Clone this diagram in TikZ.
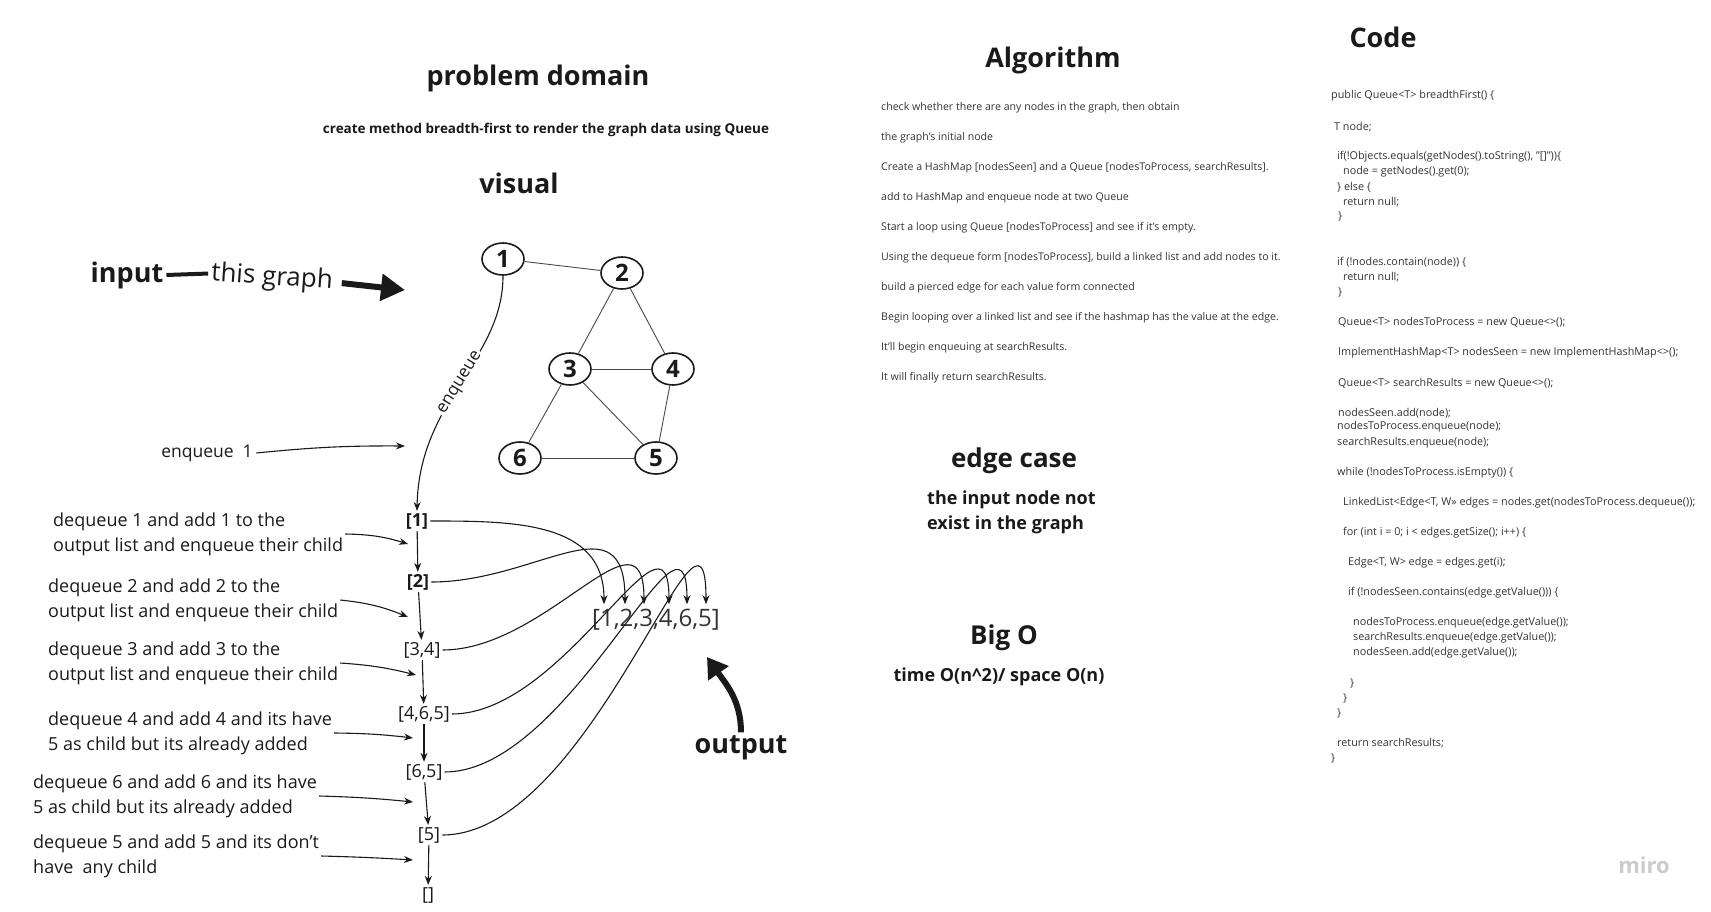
\documentclass[tikz,border=0pt]{standalone}
\usepackage{fontspec}
\setmainfont{Open Sans}[Ligatures=Common]
\usetikzlibrary{shapes.geometric,arrows.meta}
\definecolor{ink}{HTML}{1A1A1A}
\definecolor{txt}{HTML}{333333}

\tikzset{
  heading/.style={font=\fontsize{27}{32}\selectfont\bfseries, text=ink},
  small/.style={font=\fontsize{10.6}{12}\selectfont, text=txt, anchor=west, inner sep=0pt},
  listing/.style={small, font=\fontsize{10.8}{12}\selectfont},
  desc/.style={font=\fontsize{18}{25}\selectfont, text=ink, align=left, anchor=west, inner sep=2pt},
  queue/.style={font=\fontsize{18}{20}\selectfont, text=ink, inner sep=2pt},
  vertex/.style={ellipse, draw=ink, line width=1.6pt, minimum width=42pt, minimum height=32pt, inner sep=0pt, font=\fontsize{24}{24}\selectfont\bfseries, text=ink},
  link/.style={draw=ink!80, line width=0.9pt},
  pointer/.style={draw=ink, line width=1.1pt, -{Stealth[length=9pt,width=7pt]}},
  fat/.style={draw=ink, line width=6pt, -{Triangle[length=24pt,width=26pt]}},
}

\begin{document}
\begin{tikzpicture}[x=1pt,y=-1pt]
\useasboundingbox (0,0) rectangle (1711,912);

% titles
\node[heading] (pd) at (538,78) {problem domain};
\node[font=\fontsize{13.5}{16}\selectfont\bfseries, text=ink] (task) at (546,130) {create method breadth-first to render the graph data using Queue};
\node[heading] (vis) at (519,183) {visual};
\node[heading] (alg) at (1053,60) {Algorithm};
\node[heading] (code) at (1383,37) {Code};

% input
\node[font=\fontsize{27}{30}\selectfont\bfseries, text=ink, inner sep=3pt] (inp) at (127,275) {input};
\node[font=\fontsize{26}{30}\selectfont, text=ink, rotate=-4, inner sep=3pt] (thisg) at (272,278) {this graph};
\draw[ink, line width=4pt] (inp.east) -- (thisg.west);
\coordinate (gtip) at (405,290);
\draw[fat, shorten <=6pt] (thisg.east) -- (gtip);

% graph
\node[vertex] (n1) at (503,259) {1};
\node[vertex] (n2) at (622,273) {2};
\node[vertex] (n3) at (570,369) {3};
\node[vertex] (n4) at (673,369) {4};
\node[vertex] (n6) at (520,458) {6};
\node[vertex] (n5) at (656,458) {5};
\draw[link] (n1) -- (n2);
\draw[link] (n2) -- (n3);
\draw[link] (n2) -- (n4);
\draw[link] (n3) -- (n4);
\draw[link] (n3) -- (n6);
\draw[link] (n3) -- (n5);
\draw[link] (n4) -- (n5);
\draw[link] (n6) -- (n5);

% queue column
\node[queue, font=\fontsize{18}{20}\selectfont\bfseries] (q1) at (417,521) {[1]};
\node[queue, font=\fontsize{18}{20}\selectfont\bfseries] (q2) at (418,582) {[2]};
\node[queue] (q3) at (422,650) {[3,4]};
\node[queue] (q4) at (424,714) {[4,6,5]};
\node[queue] (q5) at (424,772) {[6,5]};
\node[queue] (q6) at (429,835) {[5]};
\node[queue] (q7) at (428,895) {[]};
\draw[pointer] (n1.south) .. controls (503,360) and (419,400) .. (q1.north)
  node[pos=0.5, sloped, fill=white, inner sep=2pt, font=\fontsize{17}{20}\selectfont, text=ink] {enqueue};
\draw[pointer] (q1) -- (q2);
\draw[pointer] (q2) -- (q3);
\draw[pointer] (q3) -- (q4);
\draw[pointer] (q4) -- (q5);
\draw[pointer] (q5) -- (q6);
\draw[pointer] (q6) -- (q7);

\node[font=\fontsize{17.5}{20}\selectfont, text=ink] (enq) at (207,453) {enqueue\ \ 1};
\coordinate (etip) at (405,446);
\draw[pointer] (enq.east) to[bend left=3] (etip);

% steps
\node[desc] (d1) at (51,534) {dequeue 1 and add 1 to the\\output list and enqueue their child};
\node[desc] (d2) at (46,600) {dequeue 2 and add 2 to the\\output list and enqueue their child};
\node[desc] (d3) at (46,663) {dequeue 3 and add 3 to the\\output list and enqueue their child};
\node[desc] (d4) at (46,733) {dequeue 4 and add 4 and its have\\5 as child but its already added};
\node[desc] (d5) at (31,796) {dequeue 6 and add 6 and its have\\5 as child but its already added};
\node[desc] (d6) at (31,856) {dequeue 5 and add 5 and its don't\\have\ \ any child};
\coordinate (e1) at (408,544);
\coordinate (e2) at (408,617);
\coordinate (e3) at (416,675);
\coordinate (e4) at (413,738);
\coordinate (e5) at (413,802);
\coordinate (e6) at (413,860);
\draw[pointer] (d1.east) to[bend left=8] (e1);
\draw[pointer] (d2.east) to[bend left=8] (e2);
\draw[pointer] (d3.east) to[bend left=5] (e3);
\draw[pointer] (d4.east) to[bend left=3] (e4);
\draw[pointer] (d5.east) to[bend left=2] (e5);
\draw[pointer] (d6.east) to[bend left=1] (e6);

% result
\node[font=\fontsize{24}{26}\selectfont, text=txt, inner sep=5pt] (res) at (656,620) {[1,2,3,4,6,5]};
\draw[pointer] (q1.east) to[out=0, in=90, looseness=1.1] ([xshift=-52pt]res.north);
\draw[pointer] (q2.east) to[out=0, in=90, looseness=1.4] ([xshift=-31pt]res.north);
\draw[pointer] (q3.east) to[out=0, in=90, looseness=1.3] ([xshift=-12pt]res.north);
\draw[pointer] (q4.east) to[out=0, in=90, looseness=1.2] ([xshift=13pt]res.north);
\draw[pointer] (q5.east) to[out=0, in=90, looseness=1.1] ([xshift=31pt]res.north);
\draw[pointer] (q6.east) to[out=0, in=90, looseness=1.1] ([xshift=50pt]res.north);

\node[font=\fontsize{27}{30}\selectfont\bfseries, text=ink] (outp) at (741,748) {output};
\coordinate (optip) at (707,657);
\draw[ink, line width=6pt, -{Triangle[length=20pt,width=24pt]}] (outp.north) to[out=90, in=-55] (optip);

% algorithm
\node[small] (a1) at (881,108) {check whether there are any nodes in the graph, then obtain};
\node[small] (a2) at (881,138) {the graph's initial node};
\node[small] (a3) at (881,168) {Create a HashMap [nodesSeen] and a Queue [nodesToProcess, searchResults].};
\node[small] (a4) at (881,198) {add to HashMap and enqueue node at two Queue};
\node[small] (a5) at (881,228) {Start a loop using Queue [nodesToProcess] and see if it's empty.};
\node[small] (a6) at (881,258) {Using the dequeue form [nodesToProcess], build a linked list and add nodes to it.};
\node[small] (a7) at (881,288) {build a pierced edge for each value form connected};
\node[small] (a8) at (881,318) {Begin looping over a linked list and see if the hashmap has the value at the edge.};
\node[small] (a9) at (881,348) {It'll begin enqueuing at searchResults.};
\node[small] (a10) at (881,378) {It will finally return searchResults.};

\node[heading, font=\fontsize{26}{30}\selectfont\bfseries] (ec) at (1014,461) {edge case};
\node[font=\fontsize{18}{25}\selectfont\bfseries, text=ink, align=left, anchor=west, inner sep=0pt] (ect) at (927,512) {the input node not\\exist in the graph};
\node[heading, font=\fontsize{26}{30}\selectfont\bfseries] (bo) at (1004,638) {Big O};
\node[font=\fontsize{18}{20}\selectfont\bfseries, text=ink] (bot) at (999,677) {time O(n\textasciicircum2)/ space O(n)};

% code
\node[listing] (c1) at (1331,96) {public Queue<T> breadthFirst() \{};
\node[listing] (c2) at (1334,127) {T node;};
\node[listing] (c3) at (1337,157) {if(!Objects.equals(getNodes().toString(), "[]"))\{};
\node[listing] (c4) at (1343,172) {node = getNodes().get(0);};
\node[listing] (c5) at (1337,187) {\} else \{};
\node[listing] (c6) at (1343,202) {return null;};
\node[listing] (c7) at (1338,217) {\}};
\node[listing] (c8) at (1337,262) {if (!nodes.contain(node)) \{};
\node[listing] (c9) at (1343,277) {return null;};
\node[listing] (c10) at (1338,292) {\}};
\node[listing] (c11) at (1338,322) {Queue<T> nodesToProcess = new Queue<>();};
\node[listing] (c12) at (1338,353) {ImplementHashMap<T> nodesSeen = new ImplementHashMap<>();};
\node[listing] (c13) at (1338,383) {Queue<T> searchResults = new Queue<>();};
\node[listing] (c14) at (1338,413) {nodesSeen.add(node);};
\node[listing] (c15) at (1337,427) {nodesToProcess.enqueue(node);};
\node[listing] (c16) at (1337,443) {searchResults.enqueue(node);};
\node[listing] (c17) at (1337,473) {while (!nodesToProcess.isEmpty()) \{};
\node[listing] (c18) at (1343,503) {LinkedList<Edge<T, W>> edges = nodes.get(nodesToProcess.dequeue());};
\node[listing] (c19) at (1343,533) {for (int i = 0; i < edges.getSize(); i++) \{};
\node[listing] (c20) at (1348,563) {Edge<T, W> edge = edges.get(i);};
\node[listing] (c21) at (1348,593) {if (!nodesSeen.contains(edge.getValue())) \{};
\node[listing] (c22) at (1353,623) {nodesToProcess.enqueue(edge.getValue());};
\node[listing] (c23) at (1353,638) {searchResults.enqueue(edge.getValue());};
\node[listing] (c24) at (1353,653) {nodesSeen.add(edge.getValue());};
\node[listing] (c25) at (1350,683) {\}};
\node[listing] (c26) at (1343,698) {\}};
\node[listing] (c27) at (1337,713) {\}};
\node[listing] (c28) at (1337,743) {return searchResults;};
\node[listing] (c29) at (1331,758) {\}};

\node[font=\fontsize{22}{24}\selectfont\bfseries, text=gray!40] (miro) at (1644,865) {miro};
\end{tikzpicture}
\end{document}
